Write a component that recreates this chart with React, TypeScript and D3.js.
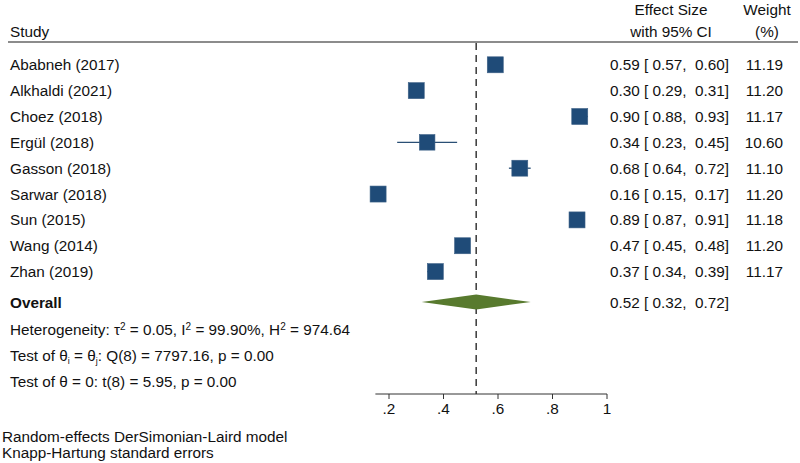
import React from "react";
import * as d3 from "d3";

const studies = ["Ababneh (2017)", "Alkhaldi (2021)", "Choez (2018)", "Ergül (2018)", "Gasson (2018)", "Sarwar (2018)", "Sun (2015)", "Wang (2014)", "Zhan (2019)"];
const effect = [0.59, 0.30, 0.90, 0.34, 0.68, 0.16, 0.89, 0.47, 0.37];
const ciLow = [0.57, 0.29, 0.88, 0.23, 0.64, 0.15, 0.87, 0.45, 0.34];
const ciHigh = [0.60, 0.31, 0.93, 0.45, 0.72, 0.17, 0.91, 0.48, 0.39];
const weights = [11.19, 11.20, 11.17, 10.60, 11.10, 11.20, 11.18, 11.20, 11.17];
const overall = { es: 0.52, lo: 0.32, hi: 0.72 };
const xTicks = [0.2, 0.4, 0.6, 0.8, 1];

const FONT = "'Liberation Sans', Arial, Helvetica, sans-serif";
const FS = 15.3;
const SQ = "#1f4b78";
const DIA = "#587a2e";

const fmt = d3.format(".2f");
const tickFmt = (v: number) => (v === 1 ? "1" : d3.format(".1f")(v).replace(/^0/, ""));

export default function App() {
  const W = 800, H = 463;
  const x = d3.scaleLinear().domain([0.2, 1]).range([389, 607]);
  const y = d3.scaleLinear().domain([0, 8]).range([64.8, 271.6]);
  const yOverall = 302;
  const yStats = [329, 355, 381];
  const axisY = 394;
  const axisStart = x(0.15);
  const size = d3.scaleSqrt().domain([0, d3.max(weights) as number]).range([0, 16]);
  const esX = 729;
  const wX = 783;
  const esText = (e: number, l: number, h: number) => `${fmt(e)} [ ${fmt(l)},  ${fmt(h)}]`;

  return (
    <svg width={W} height={H} style={{ position: "absolute", left: 0, top: 0, background: "#fff" }} fontFamily={FONT} fontSize={FS} fill="#111">
      {/* headers */}
      <text x={10} y={37}>Study</text>
      <text x={671} y={15} textAnchor="middle">Effect Size</text>
      <text x={671} y={37} textAnchor="middle">with 95% CI</text>
      <text x={767} y={15} textAnchor="middle">Weight</text>
      <text x={767} y={37} textAnchor="middle">(%)</text>
      <line x1={8} x2={798} y1={42} y2={42} stroke="#666" strokeWidth={1.6} />

      {/* reference dashed line */}
      <line x1={x(overall.es)} x2={x(overall.es)} y1={43} y2={axisY} stroke="#444" strokeWidth={1.6} strokeDasharray="7,5" />

      {studies.map((s, i) => {
        const sz = size(weights[i]);
        return (
          <g key={s}>
            <text x={10} y={y(i) + 5.5}>{s}</text>
            <line x1={x(ciLow[i])} x2={x(ciHigh[i])} y1={y(i)} y2={y(i)} stroke="#2a4f75" strokeWidth={1.3} />
            <rect x={x(effect[i]) - sz / 2} y={y(i) - sz / 2} width={sz} height={sz} fill={SQ} stroke="#3e6186" strokeWidth={0.6} />
            <text x={esX} y={y(i) + 5.5} textAnchor="end" xmlSpace="preserve">{esText(effect[i], ciLow[i], ciHigh[i])}</text>
            <text x={wX} y={y(i) + 5.5} textAnchor="end">{fmt(weights[i])}</text>
          </g>
        );
      })}

      {/* overall */}
      <text x={10} y={yOverall + 5.5} fontWeight="bold">Overall</text>
      <path
        d={`M${x(overall.lo)},${yOverall} L${x(overall.es)},${yOverall - 7.5} L${x(overall.hi)},${yOverall} L${x(overall.es)},${yOverall + 7.5} Z`}
        fill={DIA}
      />
      <text x={esX} y={yOverall + 5.5} textAnchor="end" xmlSpace="preserve">{esText(overall.es, overall.lo, overall.hi)}</text>

      {/* stats */}
      <text x={10} y={yStats[0] + 5.5} textLength={340} lengthAdjust="spacing">
        Heterogeneity: τ<tspan fontSize={10} dy={-5}>2</tspan><tspan dy={5}> = 0.05, I</tspan><tspan fontSize={10} dy={-5}>2</tspan><tspan dy={5}> = 99.90%, H</tspan><tspan fontSize={10} dy={-5}>2</tspan><tspan dy={5}> = 974.64</tspan>
      </text>
      <text x={10} y={yStats[1] + 5.5}>
        Test of θ<tspan fontSize={9} dy={3}>i</tspan><tspan dy={-3}> = θ</tspan><tspan fontSize={9} dy={3}>j</tspan><tspan dy={-3}>: Q(8) = 7797.16, p = 0.00</tspan>
      </text>
      <text x={10} y={yStats[2] + 5.5}>Test of θ = 0: t(8) = 5.95, p = 0.00</text>

      {/* axis */}
      <line x1={axisStart} x2={x(1)} y1={axisY} y2={axisY} stroke="#333" strokeWidth={1} />
      {xTicks.map((t) => (
        <g key={t}>
          <line x1={x(t)} x2={x(t)} y1={axisY} y2={axisY + 5} stroke="#333" strokeWidth={1} />
          <text x={x(t)} y={axisY + 20} textAnchor="middle">{tickFmt(t)}</text>
        </g>
      ))}

      {/* footer */}
      <text x={2} y={442}>Random-effects DerSimonian-Laird model</text>
      <text x={2} y={458}>Knapp-Hartung standard errors</text>
    </svg>
  );
}
